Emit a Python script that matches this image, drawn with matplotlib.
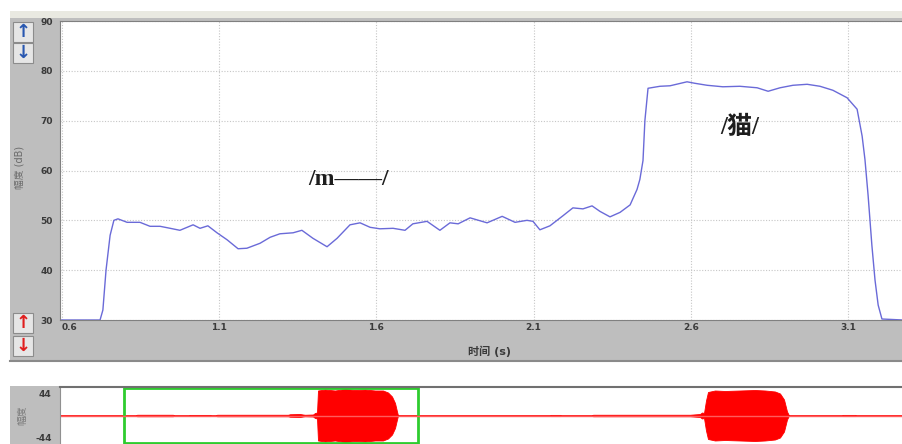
import matplotlib.pyplot as plt
from matplotlib.patches import Rectangle

plt.rcParams['font.family'] = ['DejaVu Sans', 'Noto Sans CJK SC']

# amplitude curve (dB)
time_s = [0.594, 0.721, 0.730, 0.740, 0.753, 0.765, 0.778, 0.807, 0.848, 0.880,
          0.912, 0.944, 0.975, 1.017, 1.039, 1.064, 1.093, 1.125, 1.160, 1.188,
          1.230, 1.262, 1.293, 1.335, 1.363, 1.398, 1.443, 1.475, 1.516, 1.548,
          1.580, 1.611, 1.653, 1.691, 1.716, 1.761, 1.802, 1.834, 1.860, 1.898,
          1.952, 2.000, 2.041, 2.079, 2.098, 2.120, 2.152, 2.193, 2.225, 2.257,
          2.286, 2.311, 2.343, 2.375, 2.407, 2.429, 2.438, 2.448, 2.454, 2.464,
          2.502, 2.534, 2.588, 2.613, 2.652, 2.702, 2.756, 2.811, 2.846, 2.884,
          2.925, 2.970, 3.011, 3.052, 3.097, 3.129, 3.145, 3.154, 3.164, 3.176,
          3.186, 3.196, 3.208, 3.275]
level_db = [30.0, 30.0, 32.0, 40.0, 47.0, 50.0, 50.3, 49.6, 49.6, 48.8,
            48.8, 48.4, 48.0, 49.1, 48.4, 48.9, 47.5, 46.1, 44.3, 44.4,
            45.4, 46.6, 47.3, 47.5, 48.0, 46.4, 44.7, 46.4, 49.1, 49.5,
            48.6, 48.3, 48.4, 48.0, 49.3, 49.8, 48.0, 49.5, 49.3, 50.5,
            49.5, 50.8, 49.6, 50.0, 49.8, 48.1, 48.9, 50.9, 52.5, 52.3,
            52.9, 51.8, 50.7, 51.6, 53.1, 56.2, 58.2, 62.0, 70.0, 76.5,
            76.9, 77.0, 77.8, 77.5, 77.1, 76.8, 76.9, 76.6, 75.9, 76.6,
            77.1, 77.3, 76.9, 76.1, 74.6, 72.3, 66.9, 62.2, 55.0, 45.0,
            38.0, 33.0, 30.2, 30.0]

# waveform envelope for the lower panel
wave_t = [0.0, 0.38, 0.385, 0.565, 0.57, 0.645, 0.65, 0.75, 0.755, 0.78,
          0.785, 1.135, 1.14, 1.15, 1.20, 1.215, 1.225, 1.265, 1.275, 1.285,
          1.29, 1.325, 1.375, 1.425, 1.475, 1.525, 1.575, 1.615, 1.64, 1.66,
          1.675, 1.685, 1.69, 2.45, 2.455, 2.50, 2.505, 2.66, 2.665, 3.15,
          3.20, 3.21, 3.22, 3.23, 3.24, 3.275, 3.325, 3.40, 3.475, 3.525,
          3.575, 3.60, 3.62, 3.635, 3.645, 3.91, 3.915, 3.975, 3.98, 4.215]
wave_amp = [0, 0, 1.5, 1.5, 0, 0, 1.2, 1.2, 0, 0,
            1.5, 1.5, 1.5, 2.5, 3, 2, 1.5, 2, 5, 6,
            50, 52, 50, 53, 51, 52, 50, 50, 46, 38,
            25, 8, 0, 0, 1.2, 1.2, 0, 0, 1.5, 1.5,
            3, 6, 5, 30, 47, 50, 49, 50, 51, 50,
            48, 44, 32, 8, 0, 0, 1.2, 1.2, 0, 0]
sel_start, sel_end = 0.32, 1.79

x_ticks = [0.6, 1.1, 1.6, 2.1, 2.6, 3.1]
y_ticks = [30, 40, 50, 60, 70, 80, 90]
wave_ticks = [44, -44]

W, H = 903, 444


def rect(x0, y0, x1, y1):
    return [x0 / W, 1 - y1 / H, (x1 - x0) / W, (y1 - y0) / H]


fig = plt.figure(figsize=(W / 100, H / 100), dpi=100)

# window background
bg = fig.add_axes([0, 0, 1, 1])
bg.set_xlim(0, W)
bg.set_ylim(H, 0)
bg.axis('off')
bg.add_patch(Rectangle((10, 11), 893, 7, fc='#e9e9e1', ec='none'))
bg.add_patch(Rectangle((10, 18), 893, 344, fc='#bebebe', ec='none'))
bg.plot([10, 903], [361, 361], color='#8a8a8a', lw=1.5)
bg.add_patch(Rectangle((10, 386), 893, 58, fc='#bebebe', ec='none'))

for y0, ch, col in [(22, '↑', '#2857b0'), (43, '↓', '#2857b0'),
                    (313, '↑', '#e01e1e'), (336, '↓', '#e01e1e')]:
    bg.add_patch(Rectangle((13, y0), 20, 20, fc='#e6e6e6', ec='#8c8c8c', lw=0.8))
    bg.text(23, y0 + 10, ch, ha='center', va='center', fontsize=13,
            fontweight='bold', color=col, family='DejaVu Sans')

bg.text(490, 351, '时间 (s)', ha='center', va='center', fontsize=8,
        fontweight='bold', color='#3a3a3a')
bg.text(20, 167, '幅度 (dB)', ha='center', va='center', rotation=90,
        fontsize=7, color='#6a6a6a')
bg.text(22, 415, '幅度', ha='center', va='center', rotation=90,
        fontsize=7, color='#7a7a7a')

# upper panel
ax = fig.add_axes(rect(60, 21, 903, 320))
ax.plot(time_s, level_db, color='#6a6ad8', lw=1.0)
ax.set_xlim(0.5936, 3.275)
ax.set_ylim(30, 90)
ax.set_xticks(x_ticks)
ax.set_yticks(y_ticks)
ax.grid(True, color='#c6c6c6', ls=(0, (1, 1.5)), lw=0.8)
ax.tick_params(axis='y', length=0, labelsize=6.5, colors='#3a3a3a', pad=5)
ax.tick_params(axis='x', length=0, labelsize=6.5, colors='#3a3a3a', pad=2.5)
for lab in ax.get_xticklabels() + ax.get_yticklabels():
    lab.set_fontweight('bold')
ax.get_xticklabels()[0].set_horizontalalignment('left')
for s in ['left', 'top', 'bottom']:
    ax.spines[s].set_color('#808080')
ax.spines['right'].set_visible(False)

ax.text(1.51, 58.2, '/m——/', ha='center', va='center', fontsize=17,
        fontweight='bold', color='#1e1e1e',
        family=['Liberation Serif', 'Noto Sans CJK SC'])
ax.text(2.755, 68.6, '/猫/', ha='center', va='center', fontsize=18,
        fontweight='bold', color='#1e1e1e',
        family=['Liberation Serif', 'Noto Sans CJK SC'])

# lower panel
ax2 = fig.add_axes(rect(60, 387, 903, 444))
ax2.axhline(0, color='#ff5c5c', lw=1)
ax2.fill_between(wave_t, [-a for a in wave_amp], wave_amp, color='#ff0000', lw=0.6)
ax2.add_patch(Rectangle((sel_start, -55), sel_end - sel_start, 110,
                        fill=False, ec='#2ecc2e', lw=2))
ax2.set_xlim(0, 4.215)
ax2.set_ylim(-57, 57)
ax2.set_xticks([])
ax2.set_yticks(wave_ticks)
ax2.set_yticklabels([str(v) for v in wave_ticks])
ax2.tick_params(axis='y', length=0, labelsize=6.5, colors='#3a3a3a', pad=6)
for lab in ax2.get_yticklabels():
    lab.set_fontweight('bold')
ax2.spines['top'].set_color('#707070')
ax2.spines['top'].set_linewidth(1.5)
ax2.spines['left'].set_color('#909090')
ax2.spines['right'].set_visible(False)
ax2.spines['bottom'].set_visible(False)

fig.savefig('out.png', dpi=100)
